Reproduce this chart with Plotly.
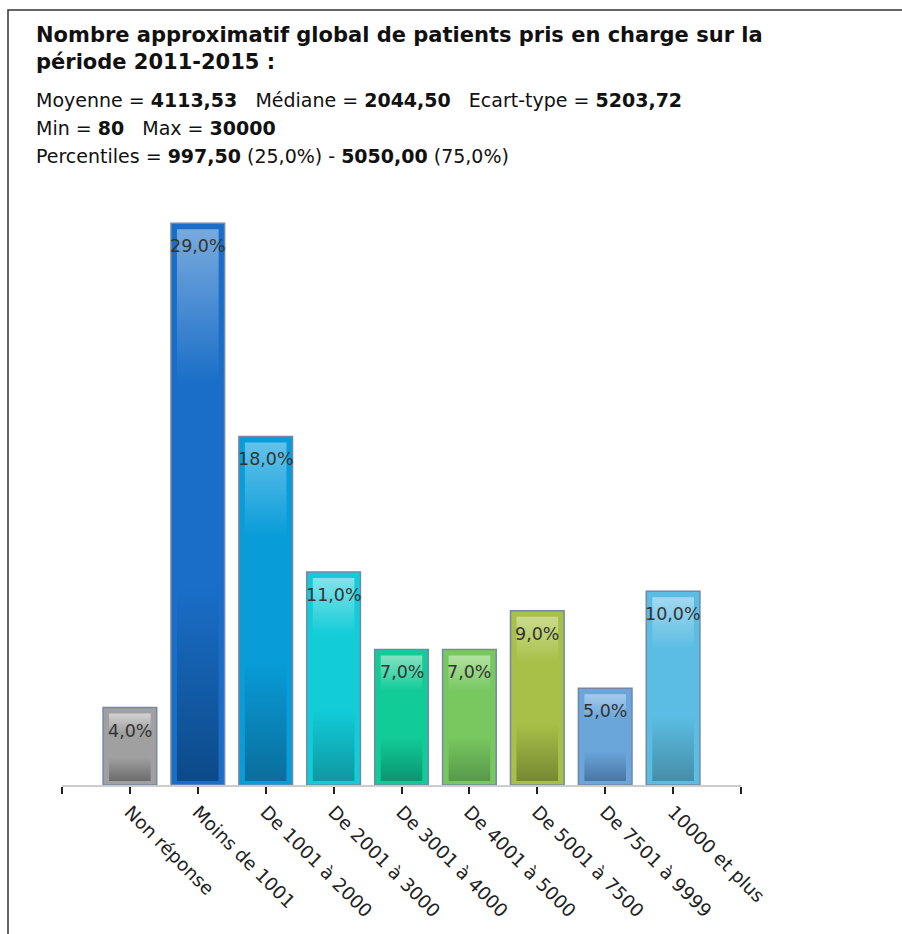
import plotly.graph_objects as go

categories = ["Non réponse", "Moins de 1001", "De 1001 à 2000", "De 2001 à 3000",
              "De 3001 à 4000", "De 4001 à 5000", "De 5001 à 7500", "De 7501 à 9999",
              "10000 et plus"]
values = [4.0, 29.0, 18.0, 11.0, 7.0, 7.0, 9.0, 5.0, 10.0]
value_labels = ["4,0%", "29,0%", "18,0%", "11,0%", "7,0%", "7,0%", "9,0%", "5,0%", "10,0%"]

base_colors = ["#a0a0a0", "#1a6ec8", "#089cd8", "#12ccd8", "#12cc98", "#78c860", "#a8c048", "#6aa6da", "#5bbde3"]
dark_colors = ["#6c6c6c", "#0c4a88", "#0a6e9c", "#0f98a2", "#0a9670", "#58984a", "#768832", "#4a76a6", "#468ea8"]
light_colors = ["#d2d2d2", "#78aade", "#62c2ea", "#84e2ea", "#84e2c2", "#b2e2a2", "#cadb8c", "#a6caec", "#a2d8f0"]

title_lines = ["Nombre approximatif global de patients pris en charge sur la", "période 2011-2015 :"]
stats_lines = [
    "Moyenne = <b>4113,53</b>   Médiane = <b>2044,50</b>   Ecart-type = <b>5203,72</b>",
    "Min = <b>80</b>   Max = <b>30000</b>",
    "Percentiles = <b>997,50</b> (25,0%) - <b>5050,00</b> (75,0%)",
]

W, H = 902, 934
L, R, T, B = 62, 161, 204, 149
PW, PH = W - L - R, H - T - B
Y_MAX = 30.0

def px_x(px):
    return (px - L) / PW

def px_y(py):
    return (H - B - py) / PH

xs = list(range(len(categories)))
bar_w = 0.79
dx = 6 / (PW / 10.0)
dy_top = 6 / (PH / Y_MAX)
dy_bot = 4 / (PH / Y_MAX)

fig = go.Figure()
fig.add_trace(go.Bar(
    x=xs, y=values, width=bar_w,
    marker=dict(color=base_colors, line=dict(color="#7388a6", width=1.5)),
    hoverinfo="skip", showlegend=False,
))

for i, v in enumerate(values):
    x0, x1 = xs[i] - bar_w / 2 + dx, xs[i] + bar_w / 2 - dx
    y0, y1 = dy_bot, v - dy_top
    fig.add_trace(go.Scatter(
        x=[x0, x1, x1, x0, x0], y=[y0, y0, y1, y1, y0],
        mode="lines", line=dict(width=0), fill="toself",
        fillgradient=dict(type="vertical", colorscale=[
            [0.0, dark_colors[i]], [0.35, base_colors[i]], [0.72, base_colors[i]], [1.0, light_colors[i]]]),
        hoverinfo="skip", showlegend=False,
    ))

for i, v in enumerate(values):
    fig.add_annotation(x=xs[i], y=v, text=value_labels[i], showarrow=False,
                       yshift=-23, font=dict(family="DejaVu Sans", size=17.5, color="#333333"))

fig.add_annotation(xref="paper", yref="paper", x=px_x(34), y=px_y(21), xanchor="left", yanchor="top",
                   align="left", showarrow=False, text="<br>".join("<b>" + t + "</b>" for t in title_lines),
                   font=dict(family="DejaVu Sans", size=21, color="#111111"))
for k, line in enumerate(stats_lines):
    fig.add_annotation(xref="paper", yref="paper", x=px_x(34), y=px_y(100 + 28 * k),
                       xanchor="left", yanchor="middle", align="left", showarrow=False,
                       text=line, font=dict(family="DejaVu Sans", size=19, color="#111111"))

fig.add_shape(type="rect", xref="paper", yref="paper",
              x0=px_x(8), x1=px_x(1100), y0=px_y(10), y1=px_y(1100),
              line=dict(color="#333333", width=1.5))

fig.update_layout(
    width=W, height=H, margin=dict(l=L, r=R, t=T, b=B),
    paper_bgcolor="white", plot_bgcolor="white", barmode="overlay",
    title_text="",
    xaxis=dict(range=[-1, 9], tickmode="array", tickvals=list(range(-1, 10)),
               ticktext=[""] + categories + [""], tickangle=45,
               showline=True, linecolor="#cccccc", linewidth=2,
               ticks="outside", ticklen=7, tickwidth=1.5, tickcolor="#222222",
               showgrid=False, zeroline=False,
               tickfont=dict(family="DejaVu Sans", size=18.5, color="#222222")),
    yaxis=dict(range=[0, Y_MAX], visible=False, showgrid=False, zeroline=False),
)

fig.write_html("out.html")
